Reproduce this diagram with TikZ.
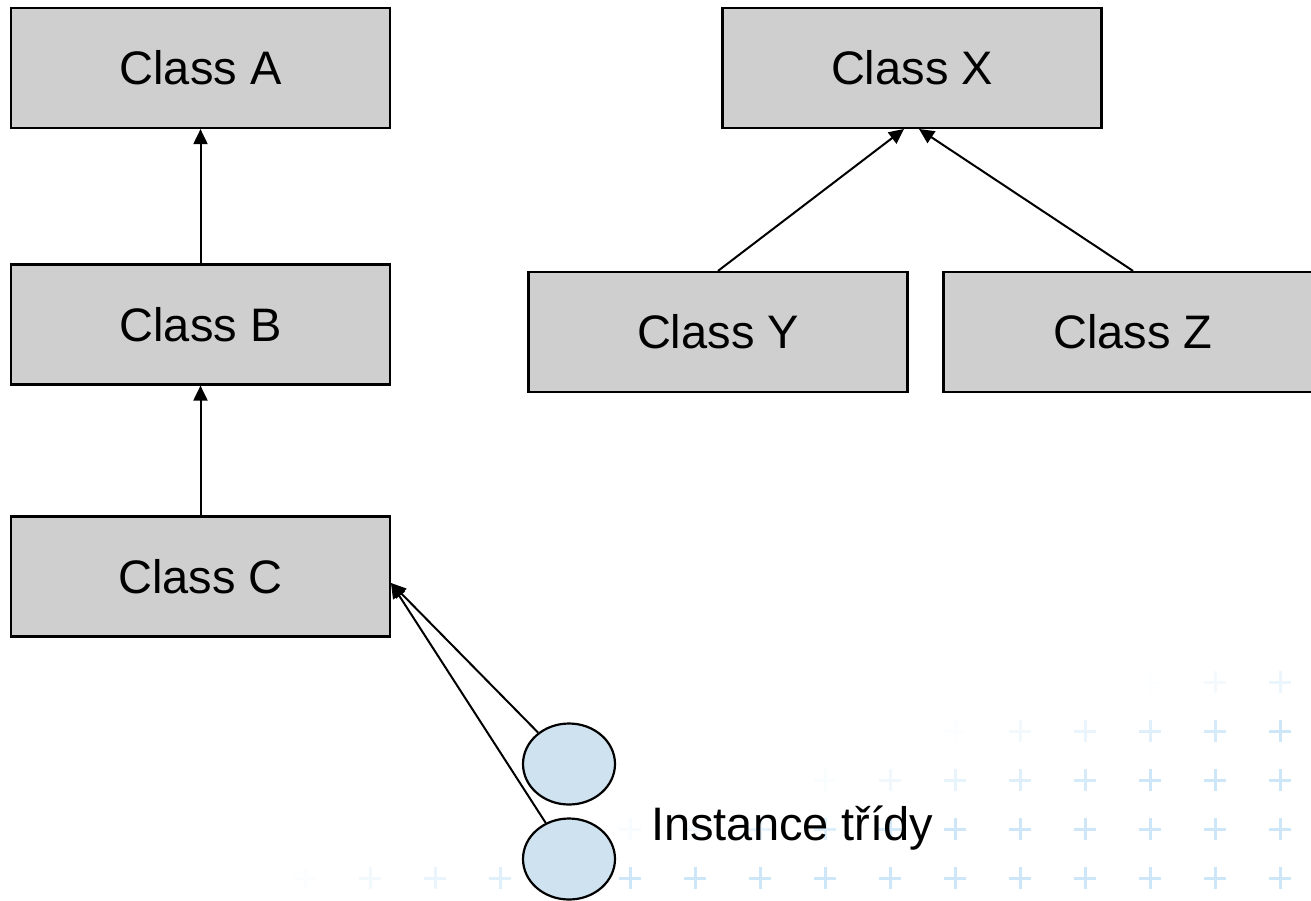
\documentclass[tikz,border=0pt]{standalone}
\usepackage{fontspec}
\setmainfont{Liberation Sans}
\usetikzlibrary{arrows.meta,shapes.geometric}
\definecolor{boxgray}{RGB}{207,207,207}
\definecolor{instblue}{RGB}{207,226,240}
\definecolor{plusblue}{RGB}{205,231,248}
\begin{document}
\begin{tikzpicture}[x=1pt,y=-1pt,
  classbox/.style={draw=black, line width=2.2pt, fill=boxgray, minimum width=379pt, minimum height=120pt, inner sep=0pt, font=\fontsize{47}{56}\selectfont},
  inst/.style={ellipse, draw=black, line width=2.2pt, fill=instblue, minimum width=92pt, minimum height=81pt, inner sep=0pt},
  conn/.style={line width=2pt, -{Triangle[length=15pt,width=14pt]}},
  plusmark/.style={plusblue, line width=3pt},
  lbl/.style={font=\fontsize{47}{56}\selectfont, inner sep=0pt}]
\useasboundingbox (0,0) rectangle (1311,900);
% background plus pattern, fading towards the upper left
\foreach \r/\s in {0/1150,1/950,2/810,3/610,4/300}{
  \foreach \c in {0,...,15}{
    \pgfmathsetmacro\px{1280-65*\c}
    \pgfmathsetmacro\py{682+49*\r}
    \pgfmathsetmacro\op{max(0,min(1,(\px-\s+20)/350))}
    \ifdim\op pt>0.02pt
      \draw[plusmark, opacity=\op] (\px-11,\py) -- (\px+11,\py) (\px,\py-11) -- (\px,\py+11);
    \fi
  }
}
\node[classbox] (A) at (200.5,68) {Class A};
\node[classbox] (B) at (200.5,324.5) {Class B};
\node[classbox] (C) at (200.5,576.5) {Class C};
\node[classbox] (X) at (912,68) {Class X};
\node[classbox] (Y) at (718,332) {Class Y};
\node[classbox] (Z) at (1133,332) {Class Z};
\node[inst] (I1) at (569,764) {};
\node[inst] (I2) at (569,859) {};
\node[lbl, anchor=base west] (L) at (651,840) {Instance třídy};
\coordinate (xl) at (904,129);
\coordinate (xr) at (919,129);
\coordinate (ct) at (391,583);
\draw[conn] (B.north) -- (A.south);
\draw[conn] (C.north) -- (B.south);
\draw[conn] (Y.north) -- (xl);
\draw[conn] (Z.north) -- (xr);
\draw[conn] (I1) -- (ct);
\draw[conn] (I2) -- (ct);
\end{tikzpicture}
\end{document}
